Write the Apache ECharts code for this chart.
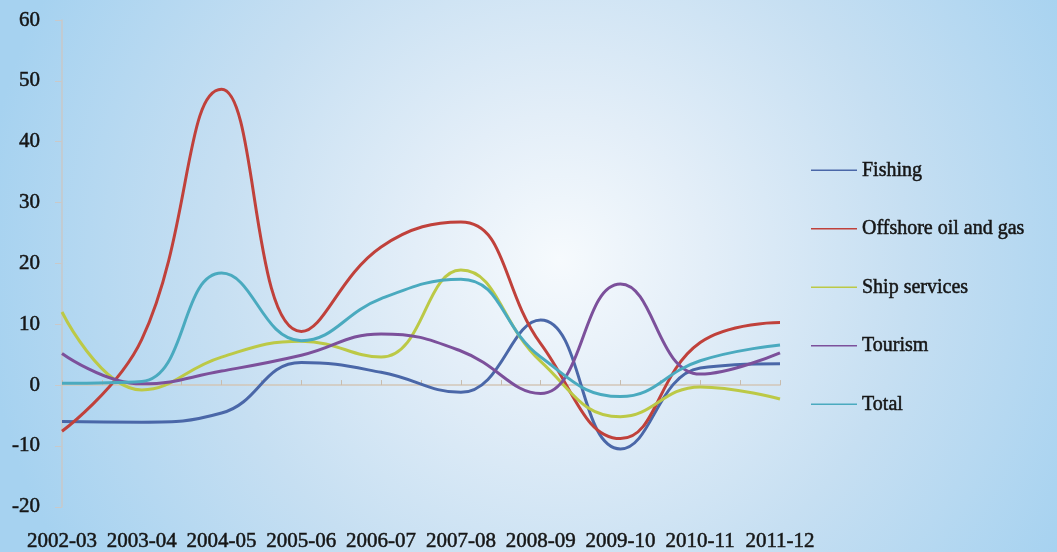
<!DOCTYPE html>
<html>
<head>
<meta charset="utf-8">
<script src="https://cdn.jsdelivr.net/npm/echarts@6/dist/echarts.min.js"></script>
<style>html,body{margin:0;padding:0;}#c{width:1057px;height:552px;}</style>
</head>
<body>
<div id="c"></div>
<script>
var categories = ['2002-03','2003-04','2004-05','2005-06','2006-07','2007-08','2008-09','2009-10','2010-11','2011-12'];
var fishing   = [-6.0, -6.1, -4.6, 3.7, 2.1, -1.2, 10.7, -10.5, 2.8, 3.5];
var offshore  = [-7.6, 7.5, 48.6, 8.8, 22.7, 26.8, 6.8, -8.8, 7.0, 10.3];
var ship      = [12.0, -0.8, 4.6, 7.2, 4.6, 18.9, 3.9, -5.2, -0.3, -2.3];
var tourism   = [5.2, 0.2, 2.3, 4.9, 8.4, 5.6, -1.4, 16.6, 1.8, 5.3];
var total     = [0.3, 0.6, 18.4, 7.3, 14.2, 17.4, 4.6, -1.9, 4.0, 6.6];
var seriesNames = ['Fishing','Offshore oil and gas','Ship services','Tourism','Total'];
var yTicks = [-20, -10, 0, 10, 20, 30, 40, 50, 60];

var colors = ['#4a67a8','#c0413b','#bcc946','#7c509b','#4aaabf'];
var tickSlots = [];
categories.forEach(function(c, i){ tickSlots.push(c); if (i < categories.length - 1) tickSlots.push(''); });

var font = 'Liberation Serif';
var txtColor = '#161616';
var chart = echarts.init(document.getElementById('c'));
var dataSets = [fishing, offshore, ship, tourism, total];
chart.setOption({
  backgroundColor: {
    type: 'radial', x: 0.53, y: 0.47, r: 1.05,
    colorStops: [
      {offset: 0, color: '#f6fafd'},
      {offset: 0.25, color: '#e3eef8'},
      {offset: 0.6, color: '#c6dff2'},
      {offset: 1, color: '#a6d2f0'}
    ]
  },
  animation: false,
  color: colors,
  grid: {left: 62, top: 20, width: 718, height: 488, containLabel: false},
  legend: {
    orient: 'vertical', left: 806, top: 155,
    itemWidth: 46, itemHeight: 20, itemGap: 38,
    icon: 'path://M0,9.25 L46,9.25 L46,10.75 L0,10.75 Z',
    textStyle: {fontFamily: font, fontSize: 20, color: txtColor, lineHeight: 20,
                textBorderColor: txtColor, textBorderWidth: 0.5},
    data: seriesNames
  },
  xAxis: [
    {
      type: 'category', data: tickSlots, boundaryGap: false, position: 'bottom',
      axisLine: {onZero: true, lineStyle: {color: '#d2c6b8', width: 1.5}},
      axisTick: {show: true, inside: true, length: 5, interval: 0, lineStyle: {color: '#c8bcae'}},
      axisLabel: {show: false}, splitLine: {show: false}
    },
    {
      type: 'category', data: categories, boundaryGap: false, position: 'bottom',
      axisLine: {show: false, onZero: false}, axisTick: {show: false},
      axisLabel: {show: true, interval: 0, margin: 24, fontFamily: font, fontSize: 21, color: txtColor,
                  textBorderColor: txtColor, textBorderWidth: 0.5},
      splitLine: {show: false}
    }
  ],
  yAxis: {
    type: 'value', min: yTicks[0], max: yTicks[yTicks.length - 1], interval: 10,
    axisLine: {show: true, lineStyle: {color: '#c9c9c9', width: 1.5}},
    axisTick: {show: true, length: 7, lineStyle: {color: '#c9c9c9'}},
    axisLabel: {margin: 22, fontFamily: font, fontSize: 21, color: txtColor,
                textBorderColor: txtColor, textBorderWidth: 0.5},
    splitLine: {show: false}
  },
  series: seriesNames.map(function(n, i){
    return {
      name: n, type: 'line', xAxisIndex: 1, data: dataSets[i],
      smooth: 0.45, symbol: 'none',
      lineStyle: {width: 3, color: colors[i]},
      itemStyle: {color: colors[i]}
    };
  })
});
</script>
</body>
</html>
